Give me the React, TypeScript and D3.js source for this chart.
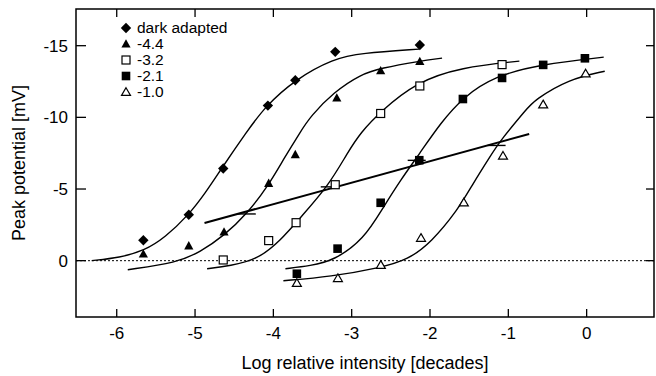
import React from "react";
import * as d3 from "d3";

const W = 656;
const H = 376;

// axis ticks
const xTicks = [-6, -5, -4, -3, -2, -1, 0];
const yTicks = [0, -5, -10, -15];

// measured data (log intensity, mV)
const darkPts: [number, number][] = [
  [-5.66, -1.42], [-5.08, -3.2], [-4.64, -6.43], [-4.07, -10.82], [-3.72, -12.59], [-3.21, -14.57], [-2.13, -15.05],
];
const t44Pts: [number, number][] = [
  [-5.66, -0.47], [-5.08, -1.03], [-4.63, -2.0], [-4.06, -5.4], [-3.72, -7.4], [-3.19, -11.35], [-2.63, -13.25], [-2.13, -13.9],
];
const s32Pts: [number, number][] = [
  [-4.64, -0.05], [-4.06, -1.4], [-3.71, -2.65], [-3.21, -5.3], [-2.63, -10.27], [-2.13, -12.19], [-1.08, -13.68],
];
const s21Pts: [number, number][] = [
  [-3.7, 0.91], [-3.18, -0.84], [-2.63, -4.04], [-2.137, -7.01], [-1.58, -11.28], [-1.08, -12.75], [-0.555, -13.66], [-0.022, -14.12],
];
const t10Pts: [number, number][] = [
  [-3.7, 1.56], [-3.176, 1.22], [-2.628, 0.3], [-2.115, -1.59], [-1.568, -4.06], [-1.068, -7.32], [-0.555, -10.9], [-0.013, -13.06],
];

// fitted curves
const darkFit: [number, number][] = [
  [-6.32, 0], [-5.96, -0.21], [-5.65, -0.7], [-5.385, -1.61], [-5.077, -3.22], [-4.872, -4.69], [-4.654, -6.5],
  [-4.346, -8.95], [-4.103, -10.77], [-3.718, -12.66], [-3.231, -14.1], [-2.885, -14.48], [-2.141, -14.76],
];
const t44Fit: [number, number][] = [
  [-5.859, 0.63], [-5.231, 0.14], [-4.936, -0.6], [-4.628, -1.75], [-4.333, -3.29], [-4.064, -5.24], [-3.872, -7.06],
  [-3.654, -9.0], [-3.526, -10.07], [-3.231, -11.75], [-2.885, -13.0], [-2.628, -13.43], [-2.141, -13.92], [-1.846, -14.13],
];
const s32Fit: [number, number][] = [
  [-4.846, 0.56], [-4.551, 0.35], [-4.205, -0.07], [-3.91, -1.4], [-3.654, -3.01], [-3.295, -5.24], [-3.051, -7.55],
  [-2.885, -8.95], [-2.628, -10.42], [-2.179, -12.45], [-1.603, -13.5], [-0.859, -13.92],
];
const s21Fit: [number, number][] = [
  [-3.846, 0.56], [-3.526, 0.35], [-3.231, 0], [-2.846, -1.47], [-2.59, -3.78], [-2.372, -5.66], [-2.141, -7.41],
  [-1.859, -9.65], [-1.577, -11.4], [-1.179, -12.87], [-0.577, -13.71], [0.218, -14.2],
];
const t10Fit: [number, number][] = [
  [-3.872, 1.4], [-3.269, 1.12], [-2.628, 0.49], [-2.282, -0.07], [-1.987, -1.26], [-1.641, -3.57], [-1.474, -5.17],
  [-1.218, -7.4], [-1.09, -8.46], [-0.769, -10.56], [-0.667, -11.2], [-0.231, -12.66], [0.231, -13.22],
];

// regression line through half-saturation points
const halfLine: [number, number][] = [[-4.879, -2.63], [-0.734, -8.84]];
const halfMarks: [number, number][] = [[-4.34, -3.26], [-3.28, -5.15], [-2.17, -7.0], [-1.15, -8.04]];

type Kind = "diamond" | "triFill" | "sqOpen" | "sqFill" | "triOpen";
const seriesNames = ["dark adapted", "-4.4", "-3.2", "-2.1", "-1.0"];
const seriesKinds: Kind[] = ["diamond", "triFill", "sqOpen", "sqFill", "triOpen"];
const seriesPts = [darkPts, t44Pts, s32Pts, s21Pts, t10Pts];
const seriesFits = [darkFit, t44Fit, s32Fit, s21Fit, t10Fit];

const FONT = "'Liberation Sans', Arial, Helvetica, sans-serif";

function Marker({ kind, cx, cy }: { kind: Kind; cx: number; cy: number }) {
  switch (kind) {
    case "diamond":
      return <path d={`M${cx},${cy - 5.2}L${cx + 5.2},${cy}L${cx},${cy + 5.2}L${cx - 5.2},${cy}Z`} fill="#000" />;
    case "triFill":
      return <path d={`M${cx},${cy - 4.8}L${cx + 4.6},${cy + 3.6}L${cx - 4.6},${cy + 3.6}Z`} fill="#000" />;
    case "triOpen":
      return (
        <path
          d={`M${cx},${cy - 4.3}L${cx + 4.5},${cy + 3.4}L${cx - 4.5},${cy + 3.4}Z`}
          fill="#fff"
          stroke="#000"
          strokeWidth={1.2}
        />
      );
    case "sqOpen":
      return <rect x={cx - 4} y={cy - 4} width={8} height={8} fill="#fff" stroke="#000" strokeWidth={1.2} />;
    case "sqFill":
      return <rect x={cx - 4.3} y={cy - 4.3} width={8.6} height={8.6} fill="#000" />;
  }
}

export default function App() {
  const x = d3.scaleLinear().domain([-6.52, 0.86]).range([76, 654]);
  const y = d3.scaleLinear().domain([3.93, -17.56]).range([317, 9]);
  const line = d3
    .line<[number, number]>()
    .x((d) => x(d[0]))
    .y((d) => y(d[1]))
    .curve(d3.curveBasis);
  const straight = d3
    .line<[number, number]>()
    .x((d) => x(d[0]))
    .y((d) => y(d[1]));

  const [x0, x1] = x.range();
  const [yb, yt] = y.range();

  return (
    <svg
      width={W}
      height={H}
      style={{ position: "fixed", left: 0, top: 0, background: "#fff" }}
      fontFamily={FONT}
    >
      <rect x={0} y={0} width={W} height={H} fill="#fff" />
      {/* zero line */}
      <line x1={x0} x2={x1} y1={y(0)} y2={y(0)} stroke="#000" strokeWidth={1} strokeDasharray="2,2" />

      {/* fitted curves */}
      {seriesFits.map((f, i) => (
        <path key={i} d={line(f) || ""} fill="none" stroke="#000" strokeWidth={1.4} />
      ))}
      <path d={straight(halfLine) || ""} fill="none" stroke="#000" strokeWidth={2} />
      {halfMarks.map((m, i) => (
        <line key={i} x1={x(m[0]) - 9} x2={x(m[0]) + 9} y1={y(m[1])} y2={y(m[1])} stroke="#000" strokeWidth={1.4} />
      ))}

      {/* data markers */}
      {seriesPts.map((pts, i) =>
        pts.map((p, j) => <Marker key={`${i}-${j}`} kind={seriesKinds[i]} cx={x(p[0])} cy={y(p[1])} />)
      )}

      {/* frame */}
      <rect x={x0} y={yt} width={x1 - x0} height={yb - yt} fill="none" stroke="#000" strokeWidth={1.5} />
      {xTicks.map((t) => (
        <g key={`xt${t}`}>
          <line x1={x(t)} x2={x(t)} y1={yb} y2={yb - 8} stroke="#000" strokeWidth={1.3} />
          <line x1={x(t)} x2={x(t)} y1={yt} y2={yt + 8} stroke="#000" strokeWidth={1.3} />
          <text x={x(t)} y={339} fontSize={17} textAnchor="middle" fill="#000">
            {String(t)}
          </text>
        </g>
      ))}
      {yTicks.map((t) => (
        <g key={`yt${t}`}>
          <line x1={x0} x2={x0 + 10} y1={y(t)} y2={y(t)} stroke="#000" strokeWidth={1.3} />
          <line x1={x1} x2={x1 - 8} y1={y(t)} y2={y(t)} stroke="#000" strokeWidth={1.3} />
          <text x={68} y={y(t)} dy="0.36em" fontSize={17} textAnchor="end" fill="#000">
            {String(t)}
          </text>
        </g>
      ))}

      {/* axis titles */}
      <text x={(x0 + x1) / 2} y={369} fontSize={18} textAnchor="middle" fill="#000">
        Log relative intensity [decades]
      </text>
      <text
        transform={`translate(25,${(yb + yt) / 2}) rotate(-90)`}
        fontSize={18}
        textAnchor="middle"
        fill="#000"
      >
        Peak potential [mV]
      </text>

      {/* legend */}
      {seriesNames.map((n, i) => (
        <g key={n}>
          <Marker kind={seriesKinds[i]} cx={126} cy={28 + i * 16} />
          <text x={137} y={32.5 + i * 16} fontSize={15.5} fill="#000">
            {n}
          </text>
        </g>
      ))}
    </svg>
  );
}
